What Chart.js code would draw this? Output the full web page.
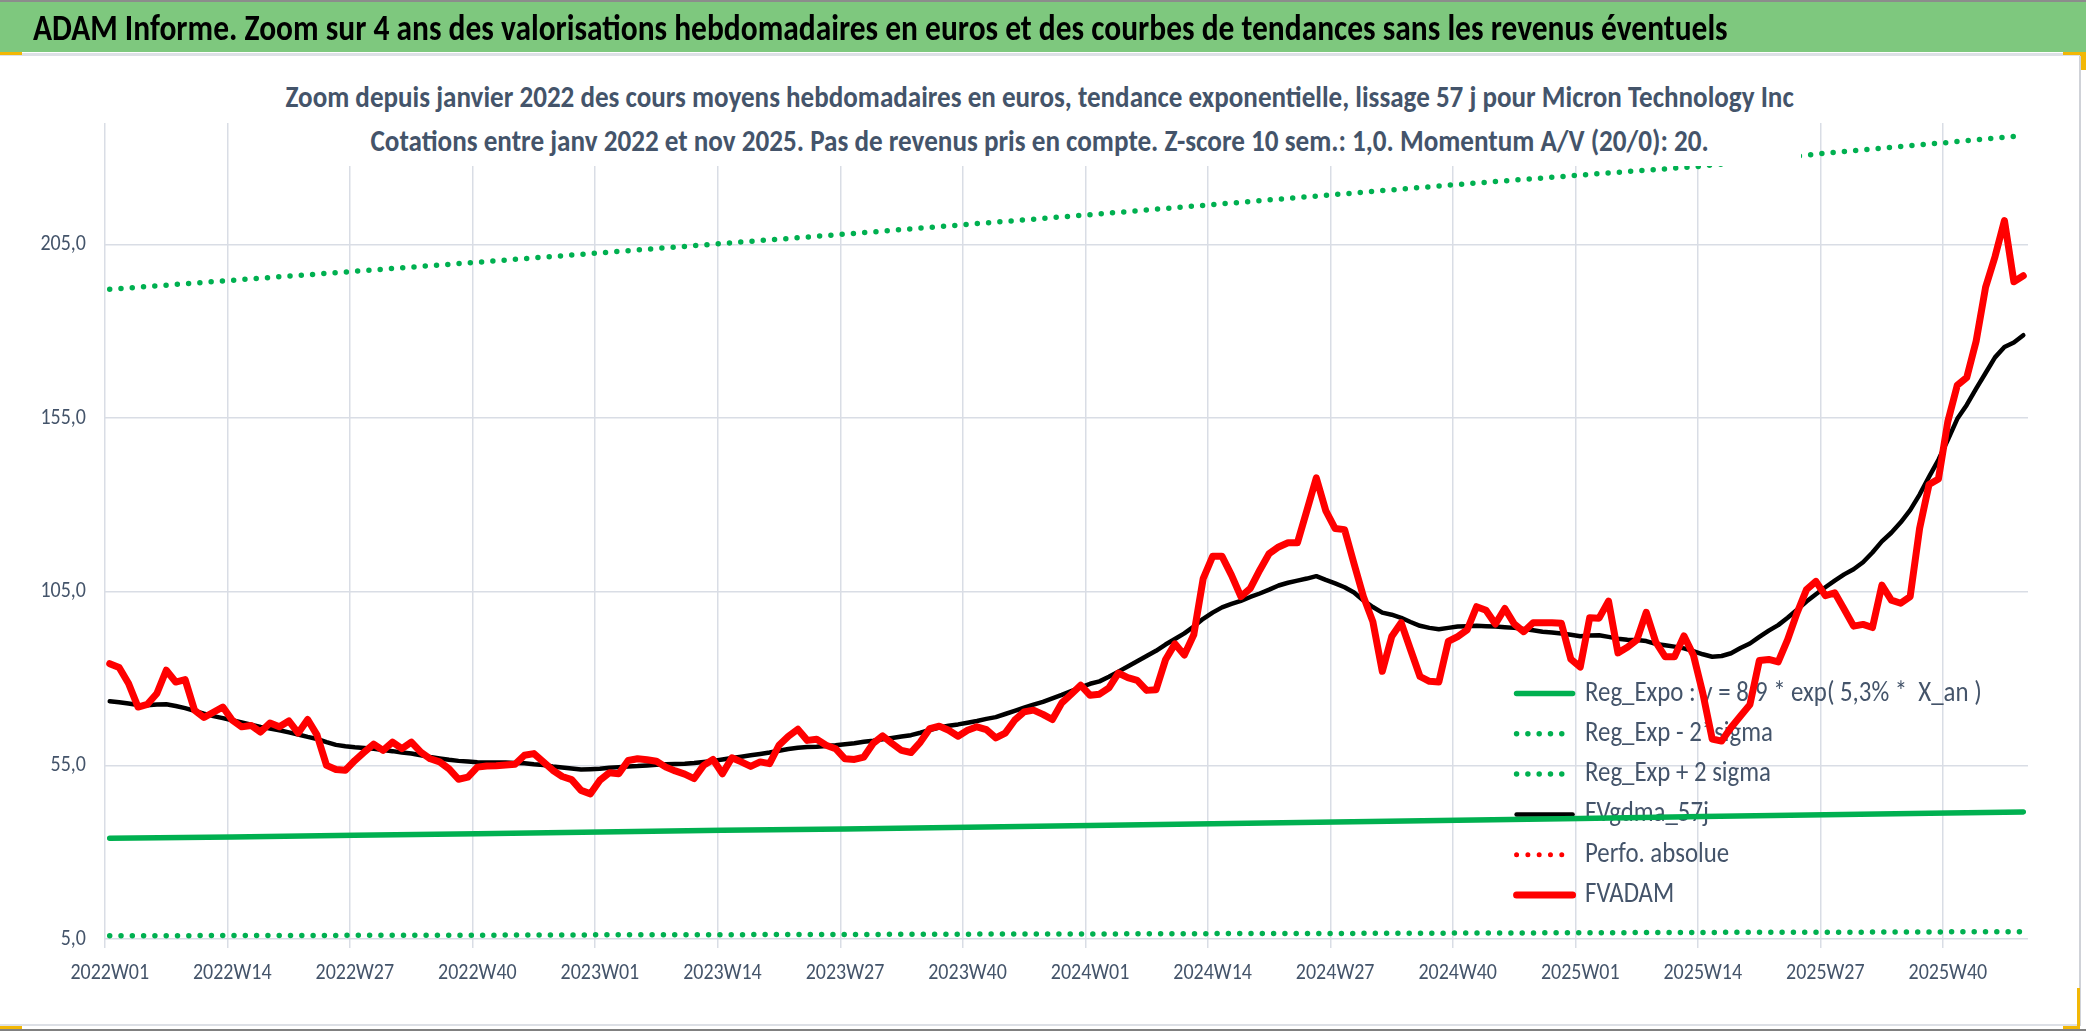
<!DOCTYPE html>
<html><head><meta charset="utf-8">
<script src="https://cdn.jsdelivr.net/npm/chart.js@4.4.1/dist/chart.umd.min.js"></script>
<style>
html,body{margin:0;padding:0;background:#fff;}
#page{position:relative;width:2086px;height:1031px;overflow:hidden;background:#fff;}
#cv{position:absolute;left:0;top:0;}
.abs{position:absolute;}
.txt{white-space:nowrap;font-family:Carlito,Calibri,sans-serif;}
</style></head><body>
<div id="page">
  <canvas id="cv" width="2086" height="1031"></canvas>
  <!-- frame -->
  <div class="abs" style="left:0;top:0;width:2086px;height:2px;background:#8c8c8c"></div>
  <div class="abs" style="left:0;top:2px;width:2086px;height:50px;background:#7ec87e"></div>
  <div class="abs" style="left:0;top:53px;width:2086px;height:3px;background:#dde0e6"></div>
  <div class="abs" style="left:0;top:52px;width:22px;height:3px;background:#f2b705"></div>
  <div class="abs" style="left:2063px;top:52px;width:23px;height:3px;background:#f2b705"></div>
  <div class="abs" style="left:2080px;top:52px;width:6px;height:18px;background:#f2b705"></div>
  <div class="abs" style="left:2079px;top:56px;width:2px;height:970px;background:#cfd2d8"></div>
  <div class="abs" style="left:0;top:1024px;width:2080px;height:2px;background:#dde0e6"></div>
  <div class="abs" style="left:0;top:1029px;width:2086px;height:2px;background:#808080"></div>
  <div class="abs" style="left:0;top:1026px;width:22px;height:3px;background:#f2b705"></div>
  <div class="abs" style="left:2077px;top:988px;width:3px;height:41px;background:#f2b705"></div>
  <div class="abs" style="left:2063px;top:1026px;width:17px;height:3px;background:#f2b705"></div>
  <div id="hdr" class="abs txt" style="color:#000"></div>
  <div id="subbox" class="abs" style="left:279px;top:60px;width:1522px;height:106px;background:#fff"></div>
  <div id="sub1" class="abs txt" style="color:#44546a"></div>
  <div id="sub2" class="abs txt" style="color:#44546a"></div>
</div>
<script>
// ---------------- data ----------------
const years = [2022, 2023, 2024, 2025];
const weeksPerYear = [52, 52, 52, 48];
const tickLabels = ['2022W01','2022W14','2022W27','2022W40','2023W01','2023W14','2023W27','2023W40',
                    '2024W01','2024W14','2024W27','2024W40','2025W01','2025W14','2025W27','2025W40'];
const yTicks = [5, 55, 105, 155, 205];

const fvadam = [
  84.3, 83.2, 78.6, 71.8, 72.6, 75.7, 82.4, 79.0, 79.7, 70.9, 68.8, 70.3, 71.8,
  68.0, 66.1, 66.5, 64.6, 67.2, 66.1, 67.8, 64.3, 68.2, 63.7, 55.0, 53.8, 53.6,
  56.4, 58.8, 61.1, 59.3, 61.7, 59.8, 61.7, 58.8, 56.9, 56.0, 54.0, 51.0, 51.6,
  54.5, 54.8, 54.9, 55.1, 55.3, 57.9, 58.4, 56.0, 53.6, 51.8, 50.9, 47.8, 46.8,
  50.7, 52.9, 52.6, 56.4, 56.9, 56.6, 56.2, 54.5, 53.4, 52.5, 51.2, 55.0, 56.7,
  52.6, 57.2, 56.0, 54.7, 56.0, 55.5, 60.8, 63.4, 65.4, 62.2, 62.5, 60.8, 59.8,
  56.9, 56.7, 57.4, 61.4, 63.5, 61.3, 59.3, 58.7, 61.7, 65.6, 66.3, 65.1, 63.4,
  65.1, 66.1, 65.3, 62.9, 64.3, 68.0, 70.4, 70.9, 69.7, 68.2, 73.0, 75.5, 78.1,
  75.2, 75.5, 77.3, 81.6, 80.3, 79.5, 76.6, 76.8, 85.4, 90.0, 86.8, 92.6, 108.8,
  115.2, 115.2, 109.8, 103.6, 106.0, 111.2, 116.0, 117.9, 119.1, 119.1, 128.4, 137.8, 128.4,
  123.2, 122.9, 113.1, 103.6, 96.4, 82.1, 92.1, 96.1, 88.3, 80.6, 79.2, 79.0, 90.7,
  92.1, 94.0, 100.7, 99.7, 95.7, 100.2, 95.7, 93.5, 96.1, 96.1, 96.1, 95.9, 85.6,
  83.3, 97.5, 97.4, 102.3, 87.4, 89.0, 91.1, 99.1, 90.6, 86.3, 86.3, 92.3, 86.8,
  75.8, 62.6, 62.0, 65.9, 69.2, 72.5, 85.2, 85.5, 84.8, 91.2, 98.9, 105.6, 108.0,
  103.9, 104.7, 100.0, 95.1, 95.6, 94.7, 106.9, 102.6, 101.7, 103.6, 123.2, 135.9, 137.5,
  154.1, 164.5, 166.7, 177.2, 192.7, 201.5, 211.9, 194.3, 196.0
];
const fvgdma57j = [
  73.5, 73.2, 72.8, 72.4, 72.3, 72.5, 72.6, 72.1, 71.5, 70.7, 69.9, 69.2, 68.6,
  68.0, 67.4, 66.7, 66.1, 65.6, 65.1, 64.5, 63.9, 63.2, 62.6, 61.7, 60.9, 60.5,
  60.2, 60.0, 59.8, 59.4, 59.1, 58.7, 58.4, 57.9, 57.4, 57.0, 56.6, 56.3, 56.1,
  55.9, 55.8, 55.8, 55.8, 55.7, 55.6, 55.3, 55.1, 54.7, 54.4, 54.1, 53.8, 53.9,
  54.0, 54.3, 54.5, 54.7, 54.8, 55.0, 55.2, 55.3, 55.4, 55.5, 55.7, 56.0, 56.3,
  56.7, 57.1, 57.5, 57.9, 58.3, 58.7, 59.2, 59.7, 60.1, 60.3, 60.4, 60.6, 60.8,
  61.1, 61.4, 61.8, 62.1, 62.5, 62.9, 63.3, 63.7, 64.4, 65.2, 65.9, 66.4, 66.8,
  67.3, 67.8, 68.4, 68.9, 69.8, 70.7, 71.6, 72.5, 73.3, 74.3, 75.3, 76.4, 77.5,
  78.5, 79.2, 80.5, 82.0, 83.5, 85.0, 86.5, 88.0, 89.8, 91.4, 93.0, 95.0, 97.2,
  99.0, 100.5, 101.5, 102.4, 103.5, 104.5, 105.6, 106.8, 107.6, 108.2, 108.8, 109.5, 108.4,
  107.4, 106.3, 104.8, 102.5, 100.6, 99.0, 98.4, 97.5, 96.3, 95.2, 94.6, 94.2, 94.6,
  95.0, 95.1, 95.2, 95.1, 95.0, 94.8, 94.6, 94.3, 93.9, 93.5, 93.3, 93.0, 92.6,
  92.2, 92.4, 92.5, 92.0, 91.5, 91.2, 91.1, 90.8, 90.0, 89.6, 89.2, 88.7, 87.9,
  87.0, 86.3, 86.5, 87.3, 88.8, 90.1, 92.0, 93.8, 95.4, 97.5, 99.8, 102.2, 104.3,
  106.3, 108.2, 110.0, 111.5, 113.5, 116.3, 119.5, 122.0, 125.0, 128.5, 133.0, 138.1, 143.0,
  148.8, 154.8, 158.8, 163.5, 168.0, 172.5, 175.5, 176.8, 178.9
];
// trend lines read at each labelled week (+ last week)
const trendWeeks = ['2022W01','2022W14','2022W27','2022W40','2023W01','2023W14','2023W27','2023W40',
                    '2024W01','2024W14','2024W27','2024W40','2025W01','2025W14','2025W27','2025W40','2025W48'];
const regExpo  = [34.0, 34.4, 34.9, 35.3, 35.8, 36.3, 36.7, 37.2, 37.7, 38.2, 38.7, 39.2, 39.7, 40.3, 40.8, 41.3, 41.6];
const regMinus = [5.9, 6.0, 6.05, 6.1, 6.2, 6.25, 6.3, 6.4, 6.45, 6.55, 6.6, 6.7, 6.8, 6.9, 6.95, 7.05, 7.1];
const regPlus  = [192.1, 194.7, 197.3, 199.9, 202.6, 205.3, 208.0, 210.8, 213.6, 216.5, 219.4, 222.3, 225.0, 227.6, 231.3, 234.4, 236.4];
const perfoAbsolue = [];

const weeks = [];
years.forEach((y, k) => { for (let w = 1; w <= weeksPerYear[k]; w++) weeks.push(y + 'W' + String(w).padStart(2, '0')); });
const pts = (xs, ys) => xs.map((x, i) => ({x, y: ys[i]}));

// ---------------- text helpers ----------------
const FONT = 'Carlito';
const VS = 1.13;               // vertical stretch to mimic Calibri proportions
const mctx = document.createElement('canvas').getContext('2d');
function fitSize(text, weight, target) {
  mctx.font = `${weight} 100px ${FONT}`;
  return 100 * target / mctx.measureText(text).width;
}
function placeText(id, text, weight, targetW, baselineY, left) {
  const el = document.getElementById(id);
  const size = fitSize(text, weight, targetW);
  mctx.font = `${weight} ${size}px ${FONT}`;
  const m = mctx.measureText(text);
  const A = m.fontBoundingBoxAscent, D = m.fontBoundingBoxDescent;
  const L = Math.ceil(size * 1.4);
  const baseOff = L / 2 + (A - D) / 2;
  el.textContent = text;
  el.style.fontFamily = FONT + ',Calibri,sans-serif';
  el.style.fontWeight = weight;
  el.style.fontSize = size + 'px';
  el.style.lineHeight = L + 'px';
  el.style.height = L + 'px';
  el.style.left = left + 'px';
  el.style.top = (baselineY - baseOff) + 'px';
  el.style.transformOrigin = `0px ${baseOff}px`;
  el.style.transform = `scaleY(${VS})`;
}
const TITLE = 'ADAM Informe. Zoom sur 4 ans des valorisations hebdomadaires en euros et des courbes de tendances sans les revenus éventuels';
const SUB1 = 'Zoom depuis janvier 2022 des cours moyens hebdomadaires en euros, tendance exponentielle, lissage 57 j pour Micron Technology Inc';
const SUB2 = 'Cotations entre janv 2022 et nov 2025. Pas de revenus pris en compte. Z-score 10 sem.: 1,0. Momentum A/V (20/0): 20.';
placeText('hdr', TITLE, 'bold', 1695, 40, 33);
placeText('sub1', SUB1, 'bold', 1509, 107.5, 1040 - 1509 / 2);
placeText('sub2', SUB2, 'bold', 1339, 151, 1040 - 1339 / 2);

// stretch canvas text of the chart vertically (same proportions as the HTML titles)
const cvs = document.getElementById('cv');
const cctx = cvs.getContext('2d');
const nativeFill = CanvasRenderingContext2D.prototype.fillText;
CanvasRenderingContext2D.prototype.fillText = function (t, x, y, mw) {
  if (this !== cctx) return mw === undefined ? nativeFill.call(this, t, x, y) : nativeFill.call(this, t, x, y, mw);
  this.save();
  this.translate(x, y);
  this.scale(1, VS);
  if (mw === undefined) nativeFill.call(this, t, 0, 0); else nativeFill.call(this, t, 0, 0, mw);
  this.restore();
};

// ---------------- chart ----------------
const TXT = '#44546a';
const GRID = '#d9dde5';
const LEG_TEXT0 = 'Reg_Expo : y = 8,9 * exp( 5,3% *  X_an )';
const LFS = fitSize(LEG_TEXT0, 'normal', 397);
const LPAD = 40.3 - LFS;
const LBOX = 56;
const LEG_TEXT_X = 1585;
const LEG_ROW1 = 693.5;
const legLeft = LEG_TEXT_X - LFS / 2 - LBOX - LPAD;
const legTop = LEG_ROW1 - LFS / 2 - LPAD;

const legendMover = {
  id: 'legendMover',
  afterLayout(chart) {
    const lg = chart.legend;
    if (!lg) return;
    lg.left = legLeft; lg.top = legTop;
    lg.right = 2086; lg.bottom = legTop + 420;
    lg.width = lg.right - lg.left; lg.height = 420;
  }
};
const shown = i => tickLabels.includes(weeks[i]);
const DOT = [0, 11.3];

new Chart(cvs, {
  type: 'line',
  data: {
    labels: weeks,
    datasets: [
      { label: LEG_TEXT0, data: pts(trendWeeks, regExpo), borderColor: '#00b050', borderWidth: 5.5,
        borderCapStyle: 'round', borderJoinStyle: 'round', order: 3 },
      { label: 'Reg_Exp - 2*sigma', data: pts(trendWeeks, regMinus), borderColor: '#00b050', borderWidth: 5.5,
        borderDash: DOT, borderCapStyle: 'round', order: 4 },
      { label: 'Reg_Exp + 2 sigma', data: pts(trendWeeks, regPlus), borderColor: '#00b050', borderWidth: 5.5,
        borderDash: DOT, borderCapStyle: 'round', order: 5 },
      { label: 'FVgdma_57j', data: fvgdma57j, borderColor: '#000000', borderWidth: 4.5,
        borderCapStyle: 'round', borderJoinStyle: 'round', order: 1 },
      { label: 'Perfo. absolue', data: perfoAbsolue, borderColor: '#ff0000', borderWidth: 5,
        borderDash: DOT, borderCapStyle: 'round', order: 2 },
      { label: 'FVADAM', data: fvadam, borderColor: '#ff0000', borderWidth: 7,
        borderCapStyle: 'round', borderJoinStyle: 'round', order: 0 }
    ]
  },
  options: {
    responsive: false, animation: false, devicePixelRatio: 1,
    layout: { padding: { left: 0, right: 58, top: 123, bottom: 0 } },
    elements: { point: { radius: 0, hoverRadius: 0 }, line: { tension: 0, fill: false } },
    plugins: {
      tooltip: { enabled: false },
      title: { display: false },
      legend: {
        position: 'chartArea', align: 'start',
        labels: {
          usePointStyle: true, pointStyle: 'line', pointStyleWidth: LBOX, boxHeight: LFS,
          padding: LPAD, color: TXT, font: { family: FONT, size: LFS },
          generateLabels: ch => ch.data.datasets.map((ds, i) => ({
            text: ds.label, fillStyle: ds.borderColor, strokeStyle: ds.borderColor, fontColor: TXT,
            lineWidth: ds.borderWidth, lineDash: ds.borderDash || [], lineCap: 'round', lineJoin: 'round',
            pointStyle: 'line', hidden: false, datasetIndex: i
          }))
        }
      }
    },
    scales: {
      x: {
        type: 'category', offset: true,
        afterFit: s => { s.height = 92; },
        border: { display: false },
        grid: {
          offset: true, lineWidth: 1.5,
          color: c => shown(c.index) ? GRID : 'rgba(0,0,0,0)',
          drawTicks: true, tickLength: 9,
          tickColor: c => shown(c.index) ? GRID : 'rgba(0,0,0,0)'
        },
        ticks: {
          autoSkip: false, maxRotation: 0, minRotation: 0, padding: 13, color: TXT,
          font: { family: FONT, size: 20 },
          callback: (v, i) => shown(i) ? weeks[i] : ''
        }
      },
      y: {
        min: 5, max: 240,
        afterBuildTicks: s => { s.ticks = yTicks.map(v => ({ value: v })); },
        afterFit: s => { s.width = 105; },
        border: { display: false },
        grid: { color: GRID, lineWidth: 1.5, drawTicks: false },
        ticks: {
          padding: 19, color: TXT, font: { family: FONT, size: 20 },
          callback: v => Number(v).toFixed(1).replace('.', ',')
        }
      }
    }
  },
  plugins: [legendMover]
});
</script>
</body></html>
